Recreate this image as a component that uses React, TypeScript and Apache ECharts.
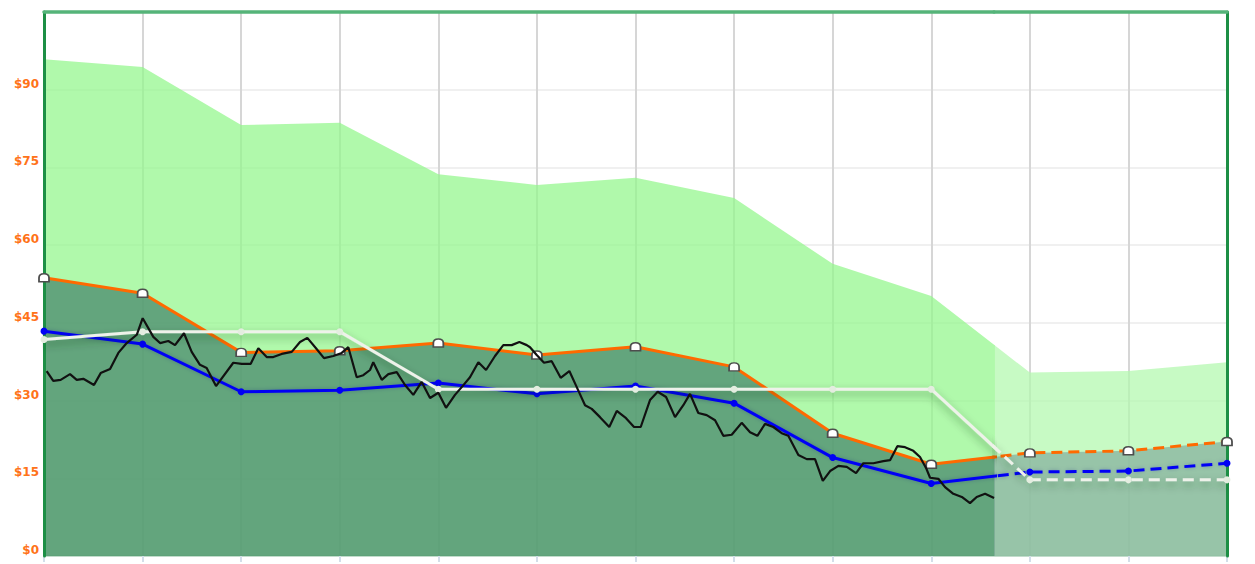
import React, { useEffect, useRef } from "react";
import * as echarts from "echarts";

// Quarter positions (0 = first quarter on the chart, 12 = last)
const quarters = [0, 1, 2, 3, 4, 5, 6, 7, 8, 9, 10, 11, 12];
// Upper (light green) band
const highEstimate = [95.9, 94.4, 83.2, 83.6, 73.7, 71.6, 73.0, 69.1, 56.4, 50.2, 35.4, 35.7, 37.4];
// Orange line (dark green band follows it)
const consensus = [53.7, 50.7, 39.3, 39.6, 41.1, 38.8, 40.4, 36.5, 23.7, 17.7, 19.9, 20.3, 22.1];
// Blue line
const lowLine = [43.4, 40.9, 31.7, 32.0, 33.4, 31.3, 32.8, 29.5, 19.0, 14.0, 16.2, 16.4, 17.9];
// White line
const stepLine = [41.8, 43.3, 43.3, 43.3, 32.2, 32.2, 32.2, 32.2, 32.2, 32.2, 14.7, 14.7, 14.7];
// Y tick labels
const yTicks = [0, 15, 30, 45, 60, 75, 90];
const yMax = 105;

// Price (black line): position in quarters, value
const priceT = [
  0.027, 0.094, 0.169, 0.264, 0.332, 0.399, 0.507, 0.575, 0.67, 0.754, 0.839, 0.941, 1.001,
  1.109, 1.177, 1.261, 1.329, 1.42, 1.498, 1.582, 1.65, 1.745, 1.92, 2.006, 2.097, 2.174,
  2.259, 2.326, 2.411, 2.513, 2.597, 2.671, 2.759, 2.84, 2.935, 3.02, 3.087, 3.172, 3.239,
  3.307, 3.34, 3.426, 3.493, 3.578, 3.662, 3.746, 3.831, 3.916, 4.0, 4.078, 4.169, 4.237,
  4.321, 4.406, 4.484, 4.575, 4.659, 4.744, 4.822, 4.897, 4.93, 4.998, 5.072, 5.15, 5.241,
  5.329, 5.404, 5.488, 5.556, 5.64, 5.734, 5.81, 5.904, 5.985, 6.053, 6.147, 6.225, 6.31,
  6.401, 6.485, 6.553, 6.637, 6.722, 6.807, 6.891, 6.976, 7.077, 7.162, 7.236, 7.314, 7.398,
  7.483, 7.55, 7.652, 7.737, 7.821, 7.9, 7.974, 8.058, 8.143, 8.237, 8.311, 8.413, 8.514,
  8.582, 8.656, 8.734, 8.818, 8.886, 8.947, 8.988, 9.072, 9.14, 9.224, 9.31, 9.393, 9.461,
  9.546, 9.637,
];
const priceV = [
  35.7, 33.8, 34.0, 35.1, 34.0, 34.2, 33.0, 35.3, 36.1, 39.2, 41.1, 42.7, 45.9,
  42.3, 41.1, 41.5, 40.7, 43.0, 39.4, 36.9, 36.3, 32.8, 37.3, 37.1, 37.1, 40.1,
  38.4, 38.4, 39.0, 39.4, 41.3, 42.1, 40.1, 38.2, 38.6, 39.2, 40.3, 34.5, 34.9,
  35.9, 37.4, 34.0, 35.1, 35.5, 33.0, 31.1, 33.6, 30.5, 31.5, 28.6, 31.1, 32.6,
  34.5, 37.4, 35.9, 38.6, 40.7, 40.7, 41.3, 40.7, 40.3, 38.8, 37.3, 37.6, 34.4,
  35.7, 32.6, 29.1, 28.4, 26.8, 24.9, 28.0, 26.6, 24.9, 24.9, 30.1, 31.7, 30.7,
  26.8, 29.1, 31.3, 27.6, 27.2, 26.2, 23.2, 23.4, 25.7, 23.9, 23.2, 25.5, 24.9,
  23.7, 23.2, 19.5, 18.7, 18.7, 14.5, 16.4, 17.4, 17.2, 16.0, 17.9, 17.9, 18.3,
  18.5, 21.2, 21.0, 20.3, 19.1, 17.0, 15.1, 14.9, 13.3, 12.0, 11.4, 10.2, 11.4,
  12.0, 11.2,
];

const W = 1255;
const H = 564;
const PL = 44;
const PR = 28;
const PT = 12;
const PB = 8;

const pairs = (vals: number[]) => quarters.map((q, i) => [q, vals[i]]);

const DOME = "path://M0,10 L0,5 C0,1.5 2.5,0 6,0 C9.5,0 12,1.5 12,5 L12,10 Z";

export default function App() {
  const ref = useRef<HTMLDivElement>(null);

  useEffect(() => {
    if (!ref.current) return;
    const chart = echarts.init(ref.current, undefined, { renderer: "svg" });

    const qMax = quarters[quarters.length - 1];
    const boundary = priceT[priceT.length - 1];
    const plotW = W - PL - PR;
    const pastW = (plotW * boundary) / qMax;

    const borderX = (min: number, max: number, gridIndex: number) => ({
      type: "value",
      gridIndex,
      position: "top",
      min,
      max,
      z: 6,
      axisLine: { show: true, onZero: false, lineStyle: { color: "#55b479", width: 3.5 } },
      axisTick: { show: false },
      axisLabel: { show: false },
      splitLine: { show: false },
    });
    const borderY = (gridIndex: number, position: string) => ({
      type: "value",
      gridIndex,
      position,
      min: 0,
      max: yMax,
      z: 6,
      axisLine: { show: true, onZero: false, lineStyle: { color: "#1d8f45", width: 3 } },
      axisTick: { show: false },
      axisLabel: { show: false },
      splitLine: { show: false },
    });

    const areaSeries = (
      vals: number[],
      color: string,
      xi: number,
      yi: number,
      z: number
    ) => ({
      type: "line",
      xAxisIndex: xi,
      yAxisIndex: yi,
      data: pairs(vals),
      symbol: "none",
      clip: true,
      silent: true,
      lineStyle: { width: 0 },
      areaStyle: { color, opacity: 1 },
      z,
    });

    const lineSeries = (
      vals: number[],
      color: string,
      dashed: boolean,
      xi: number,
      yi: number,
      z: number,
      extra: any = {}
    ) => ({
      type: "line",
      xAxisIndex: xi,
      yAxisIndex: yi,
      data: pairs(vals),
      clip: true,
      z,
      lineStyle: {
        color,
        width: 3,
        type: dashed ? [11, 6] : "solid",
        ...(extra.lineStyle || {}),
      },
      symbol: extra.symbol || "circle",
      symbolSize: extra.symbolSize || 7,
      showSymbol: true,
      itemStyle: extra.itemStyle || { color },
    });

    const orangeExtra = {
      symbol: DOME,
      symbolSize: [10, 8],
      itemStyle: { color: "#ffffff", borderColor: "#4d4d4d", borderWidth: 1.6 },
    };
    const whiteExtra = {
      itemStyle: { color: "#e4ede0" },
      lineStyle: {
        shadowColor: "rgba(0,60,20,0.45)",
        shadowBlur: 8,
        shadowOffsetY: 4,
      },
    };
    const blueExtra = {
      lineStyle: { shadowColor: "rgba(0,0,120,0.25)", shadowBlur: 4 },
    };

    const option: any = {
      animation: false,
      backgroundColor: "#ffffff",
      grid: [
        { left: PL, right: PR, top: PT, bottom: PB, outerBoundsMode: "none" },
        { left: PL, width: pastW, top: PT, bottom: PB, outerBoundsMode: "none" },
        { left: PL + pastW, right: PR, top: PT, bottom: PB, outerBoundsMode: "none" },
      ],
      xAxis: [
        {
          type: "value",
          gridIndex: 0,
          position: "bottom",
          min: 0,
          max: qMax,
          interval: 1,
          z: 0,
          axisLine: { show: true, onZero: false, lineStyle: { color: "#c2dccc", width: 2 } },
          axisTick: { show: true, length: 6, lineStyle: { color: "#d3dee9", width: 2 } },
          axisLabel: { show: false },
          splitLine: { show: true, lineStyle: { color: "#d6d6d6", width: 2 } },
        },
        borderX(0, boundary, 1),
        borderX(boundary, qMax, 2),
      ],
      yAxis: [
        {
          type: "value",
          gridIndex: 0,
          position: "left",
          min: 0,
          max: yMax,
          interval: 15,
          z: 0,
          axisLine: { show: false },
          axisTick: { show: false },
          axisLabel: {
            show: true,
            margin: 5,
            color: "#ff7319",
            fontSize: 12,
            fontWeight: "bold",
            fontFamily: "DejaVu Sans",
            verticalAlign: "bottom",
            formatter: (v: number) => (yTicks.includes(v) ? "$" + v : ""),
          },
          splitLine: { show: true, lineStyle: { color: "#ebebeb", width: 1.5 } },
        },
        borderY(1, "left"),
        borderY(2, "right"),
      ],
      series: [
        // past areas
        areaSeries(highEstimate, "rgba(147,247,140,0.73)", 1, 1, 1),
        areaSeries(consensus, "rgba(74,136,110,0.75)", 1, 1, 2),
        // future areas
        areaSeries(highEstimate, "rgba(178,248,174,0.73)", 2, 2, 1),
        areaSeries(consensus, "rgba(135,178,159,0.75)", 2, 2, 2),
        // blue
        lineSeries(lowLine, "#0000f5", false, 1, 1, 10, blueExtra),
        lineSeries(lowLine, "#0000f5", true, 2, 2, 10, blueExtra),
        // orange
        lineSeries(consensus, "#ff6a00", false, 1, 1, 11, orangeExtra),
        lineSeries(consensus, "#ff6a00", true, 2, 2, 11, orangeExtra),
        // white
        lineSeries(stepLine, "#eef2ea", false, 1, 1, 12, whiteExtra),
        lineSeries(stepLine, "#eef2ea", true, 2, 2, 12, whiteExtra),
        // price
        {
          type: "line",
          xAxisIndex: 1,
          yAxisIndex: 1,
          data: priceT.map((t, i) => [t, priceV[i]]),
          symbol: "none",
          clip: false,
          z: 13,
          lineStyle: { color: "#111111", width: 2.2 },
        },
      ],
    };

    chart.setOption(option);
    return () => chart.dispose();
  }, []);

  return (
    <div
      ref={ref}
      style={{ position: "absolute", left: 0, top: 0, width: W, height: H }}
    />
  );
}
